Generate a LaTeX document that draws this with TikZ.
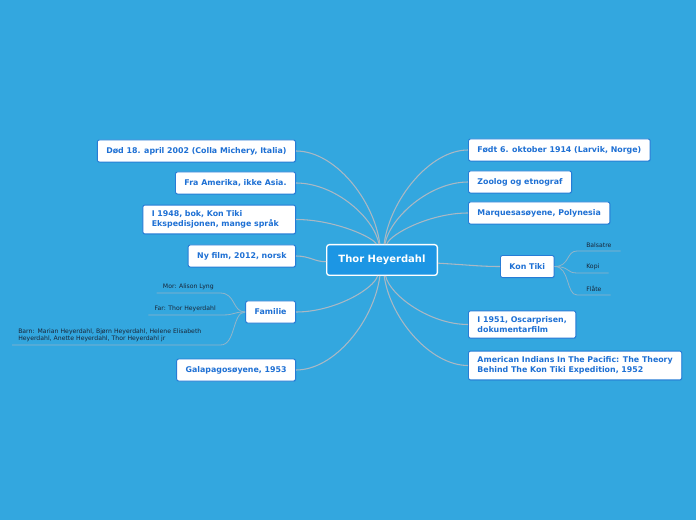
\documentclass[tikz,border=0pt]{standalone}
\usepackage{tikz}
\usepackage{xcolor}
\usepackage{fontspec}
\usetikzlibrary{shadows}
\newfontfamily\mapfont{DejaVu Sans}
\definecolor{skyback}{RGB}{51,167,223}
\definecolor{boxline}{RGB}{38,124,214}
\definecolor{boxtext}{RGB}{30,112,212}
\definecolor{hubfill}{RGB}{28,150,228}
\definecolor{branchgrey}{RGB}{170,184,196}
\definecolor{leaftext}{RGB}{24,38,56}

\begin{document}
\begin{tikzpicture}[x=0.75pt, y=-0.75pt,
    topic/.style={draw=boxline, fill=white, line width=0.7pt, rounded corners=1.5pt,
        text=boxtext, font=\mapfont\bfseries\fontsize{5.9}{7.5}\selectfont,
        inner xsep=6.75pt, inner ysep=4.2pt, minimum height=16.5pt, align=left,
        drop shadow={opacity=0.35, shadow xshift=0.4pt, shadow yshift=-0.6pt, fill=boxline}},
    hub/.style={draw=white, fill=hubfill, line width=1pt, rounded corners=2pt,
        text=white, font=\mapfont\bfseries\fontsize{7.5}{9}\selectfont,
        minimum width=83pt, minimum height=23pt},
    leaf/.style={text=leaftext, font=\mapfont\fontsize{4.6}{5.3}\selectfont,
        inner xsep=4.5pt, inner ysep=2.5pt},
    branch/.style={draw=branchgrey, line width=0.8pt},
    twig/.style={draw=branchgrey!80!skyback, line width=0.6pt}]

% 1. BACKGROUND
\fill[skyback] (0,0) rectangle (696,520);

% 2. CENTRE TOPIC
\node[hub] (thor) at (382,260) {Thor Heyerdahl};

% 3. LEFT TOPICS
\node[topic, anchor=east] (dod) at (296,151) {Død 18. april 2002 (Colla Michery, Italia)};
\node[topic, anchor=east] (fra) at (296,183) {Fra Amerika, ikke Asia.};
\node[topic, anchor=east, text width=101pt] (bok) at (296,219.5) {I 1948, bok, Kon Tiki\\Ekspedisjonen, mange språk};
\node[topic, anchor=east] (film) at (296,256) {Ny film, 2012, norsk};
\node[topic, anchor=east] (familie) at (296,312) {Familie};
\node[topic, anchor=east] (galapagos) at (296,370) {Galapagosøyene, 1953};

% 4. RIGHT TOPICS
\node[topic, anchor=west] (fodt) at (468,150) {Født 6. oktober 1914 (Larvik, Norge)};
\node[topic, anchor=west] (zoolog) at (468,182) {Zoolog og etnograf};
\node[topic, anchor=west] (marquesas) at (468,213) {Marquesasøyene, Polynesia};
\node[topic, anchor=west] (kontiki) at (500,266.5) {Kon Tiki};
\node[topic, anchor=west] (oscar) at (468,324.5) {I 1951, Oscarprisen,\\dokumentarfilm};
\node[topic, anchor=west] (indians) at (468,365.5) {American Indians In The Pacific: The Theory\\Behind The Kon Tiki Expedition, 1952};

% 5. BRANCHES FROM THE CENTRE
\foreach \n/\yy in {dod/151, fra/183, bok/219.5, familie/312, galapagos/370} {
    \draw[branch] (thor) .. controls (374,{260+0.55*(\yy-260)}) and (335,\yy) .. (\n.east);
}
\draw[branch] (thor) .. controls (315,262) and (310,256) .. (film.east);
\foreach \n/\yy in {fodt/150, zoolog/182, marquesas/213, oscar/324.5, indians/365.5} {
    \draw[branch] (thor) .. controls (390,{260+0.55*(\yy-260)}) and (430,\yy) .. (\n.west);
}
\draw[branch] (thor) .. controls (470,265) and (480,266.5) .. (kontiki.west);

% 6. KON TIKI LEAVES
\node[leaf, anchor=south west, inner xsep=6.75pt] (balsatre) at (577,251) {Balsatre};
\node[leaf, anchor=south west, inner xsep=6.75pt] (kopi) at (577,273) {Kopi};
\node[leaf, anchor=south west, inner xsep=6.75pt] (flate) at (577,295) {Flåte};
\foreach \n in {balsatre, kopi, flate} {
    \draw[twig] (kontiki.east) .. controls (570,266.5) and (566,0 |- \n.south west) .. (\n.south west) -- (\n.south east);
}

% 7. FAMILY LEAVES
\node[leaf, anchor=south east] (mor) at (220,293) {Mor: Alison Lyng};
\node[leaf, anchor=south east] (far) at (222,315) {Far: Thor Heyerdahl};
\node[leaf, anchor=south west, text width=147pt, align=left] (barn) at (12,345) {Barn: Marian Heyerdahl, Bjørn Heyerdahl, Helene Elisabeth\\Heyerdahl, Anette Heyerdahl, Thor Heyerdahl jr};
\foreach \n in {mor, far, barn} {
    \draw[twig] (familie.west) .. controls (232,312) and (236,0 |- \n.south east) .. (\n.south east) -- (\n.south west);
}

\end{tikzpicture}
\end{document}
